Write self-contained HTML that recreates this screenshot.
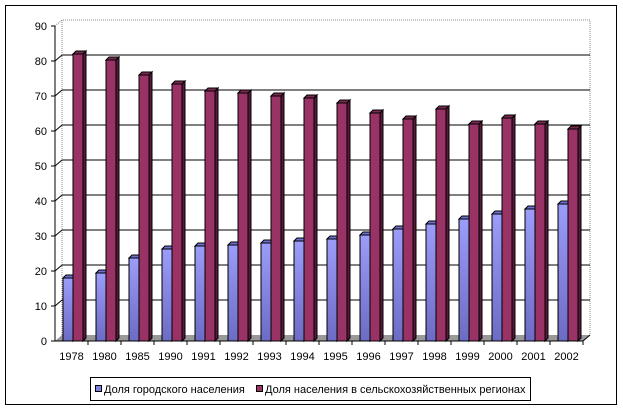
<!DOCTYPE html>
<html><head><meta charset="utf-8"><style>
html,body{margin:0;padding:0;background:#fff;}
svg{display:block;font-family:"Liberation Sans",Arial,sans-serif;}
</style></head><body>
<svg width="623" height="411" viewBox="0 0 623 411" xmlns="http://www.w3.org/2000/svg">
<defs>
<linearGradient id="gb" x1="0" y1="0" x2="0" y2="1"><stop offset="0" stop-color="#9c9cfa"/><stop offset="1" stop-color="#6c6cc4"/></linearGradient>
</defs>
<rect x="5.5" y="5.5" width="611" height="399" fill="#fff" stroke="#000"/>
<path d="M62 335 V20 H590 V335" fill="none" stroke="#888" stroke-dasharray="1,1"/>
<line x1="55" y1="26" x2="62" y2="20" stroke="#888" stroke-dasharray="1,1"/>
<g stroke="#000">
<line x1="62" y1="55" x2="590" y2="55"/><line x1="62" y1="90" x2="590" y2="90"/>
<line x1="62" y1="125" x2="590" y2="125"/><line x1="62" y1="160" x2="590" y2="160"/>
<line x1="62" y1="195" x2="590" y2="195"/><line x1="62" y1="230" x2="590" y2="230"/>
<line x1="62" y1="265" x2="590" y2="265"/><line x1="62" y1="300" x2="590" y2="300"/>
<line x1="55" y1="61" x2="62" y2="55"/><line x1="55" y1="96" x2="62" y2="90"/>
<line x1="55" y1="131" x2="62" y2="125"/><line x1="55" y1="166" x2="62" y2="160"/>
<line x1="55" y1="201" x2="62" y2="195"/><line x1="55" y1="236" x2="62" y2="230"/>
<line x1="55" y1="271" x2="62" y2="265"/><line x1="55" y1="306" x2="62" y2="300"/>
</g>
<polygon points="55,341 583,341 590,335 62,335" fill="#999"/>
<line x1="583" y1="341" x2="590" y2="335" stroke="#000"/>

<g stroke="#000" stroke-width="1">
<!-- blue bars -->
<g fill="url(#gb)">
<g transform="translate(63,278)"><path d="M10 0 L13 -3 V60 L10 63 Z" fill="#5050a0"/><path d="M0 0 L3 -3 H13 L10 0 Z" fill="#7070d0"/><rect width="10" height="63"/></g>
<g transform="translate(96,273)"><path d="M10 0 L13 -3 V65 L10 68 Z" fill="#5050a0"/><path d="M0 0 L3 -3 H13 L10 0 Z" fill="#7070d0"/><rect width="10" height="68"/></g>
<g transform="translate(129,258)"><path d="M10 0 L13 -3 V80 L10 83 Z" fill="#5050a0"/><path d="M0 0 L3 -3 H13 L10 0 Z" fill="#7070d0"/><rect width="10" height="83"/></g>
<g transform="translate(162,249)"><path d="M10 0 L13 -3 V89 L10 92 Z" fill="#5050a0"/><path d="M0 0 L3 -3 H13 L10 0 Z" fill="#7070d0"/><rect width="10" height="92"/></g>
<g transform="translate(195,246)"><path d="M10 0 L13 -3 V92 L10 95 Z" fill="#5050a0"/><path d="M0 0 L3 -3 H13 L10 0 Z" fill="#7070d0"/><rect width="10" height="95"/></g>
<g transform="translate(228,245)"><path d="M10 0 L13 -3 V93 L10 96 Z" fill="#5050a0"/><path d="M0 0 L3 -3 H13 L10 0 Z" fill="#7070d0"/><rect width="10" height="96"/></g>
<g transform="translate(261,243)"><path d="M10 0 L13 -3 V95 L10 98 Z" fill="#5050a0"/><path d="M0 0 L3 -3 H13 L10 0 Z" fill="#7070d0"/><rect width="10" height="98"/></g>
<g transform="translate(294,241)"><path d="M10 0 L13 -3 V97 L10 100 Z" fill="#5050a0"/><path d="M0 0 L3 -3 H13 L10 0 Z" fill="#7070d0"/><rect width="10" height="100"/></g>
<g transform="translate(327,239)"><path d="M10 0 L13 -3 V99 L10 102 Z" fill="#5050a0"/><path d="M0 0 L3 -3 H13 L10 0 Z" fill="#7070d0"/><rect width="10" height="102"/></g>
<g transform="translate(360,235)"><path d="M10 0 L13 -3 V103 L10 106 Z" fill="#5050a0"/><path d="M0 0 L3 -3 H13 L10 0 Z" fill="#7070d0"/><rect width="10" height="106"/></g>
<g transform="translate(393,229)"><path d="M10 0 L13 -3 V109 L10 112 Z" fill="#5050a0"/><path d="M0 0 L3 -3 H13 L10 0 Z" fill="#7070d0"/><rect width="10" height="112"/></g>
<g transform="translate(426,224)"><path d="M10 0 L13 -3 V114 L10 117 Z" fill="#5050a0"/><path d="M0 0 L3 -3 H13 L10 0 Z" fill="#7070d0"/><rect width="10" height="117"/></g>
<g transform="translate(459,219)"><path d="M10 0 L13 -3 V119 L10 122 Z" fill="#5050a0"/><path d="M0 0 L3 -3 H13 L10 0 Z" fill="#7070d0"/><rect width="10" height="122"/></g>
<g transform="translate(492,214)"><path d="M10 0 L13 -3 V124 L10 127 Z" fill="#5050a0"/><path d="M0 0 L3 -3 H13 L10 0 Z" fill="#7070d0"/><rect width="10" height="127"/></g>
<g transform="translate(525,209)"><path d="M10 0 L13 -3 V129 L10 132 Z" fill="#5050a0"/><path d="M0 0 L3 -3 H13 L10 0 Z" fill="#7070d0"/><rect width="10" height="132"/></g>
<g transform="translate(558,204)"><path d="M10 0 L13 -3 V134 L10 137 Z" fill="#5050a0"/><path d="M0 0 L3 -3 H13 L10 0 Z" fill="#7070d0"/><rect width="10" height="137"/></g>
</g>
<!-- red bars -->
<g fill="#993366">
<g transform="translate(73,54)"><path d="M10 0 L13 -3 V284 L10 287 Z" fill="#5a1a3a"/><path d="M0 0 L3 -3 H13 L10 0 Z" fill="#7a2a50"/><rect width="10" height="287"/></g>
<g transform="translate(106,60)"><path d="M10 0 L13 -3 V278 L10 281 Z" fill="#5a1a3a"/><path d="M0 0 L3 -3 H13 L10 0 Z" fill="#7a2a50"/><rect width="10" height="281"/></g>
<g transform="translate(139,75)"><path d="M10 0 L13 -3 V263 L10 266 Z" fill="#5a1a3a"/><path d="M0 0 L3 -3 H13 L10 0 Z" fill="#7a2a50"/><rect width="10" height="266"/></g>
<g transform="translate(172,84)"><path d="M10 0 L13 -3 V254 L10 257 Z" fill="#5a1a3a"/><path d="M0 0 L3 -3 H13 L10 0 Z" fill="#7a2a50"/><rect width="10" height="257"/></g>
<g transform="translate(205,91)"><path d="M10 0 L13 -3 V247 L10 250 Z" fill="#5a1a3a"/><path d="M0 0 L3 -3 H13 L10 0 Z" fill="#7a2a50"/><rect width="10" height="250"/></g>
<g transform="translate(238,93)"><path d="M10 0 L13 -3 V245 L10 248 Z" fill="#5a1a3a"/><path d="M0 0 L3 -3 H13 L10 0 Z" fill="#7a2a50"/><rect width="10" height="248"/></g>
<g transform="translate(271,96)"><path d="M10 0 L13 -3 V242 L10 245 Z" fill="#5a1a3a"/><path d="M0 0 L3 -3 H13 L10 0 Z" fill="#7a2a50"/><rect width="10" height="245"/></g>
<g transform="translate(304,98)"><path d="M10 0 L13 -3 V240 L10 243 Z" fill="#5a1a3a"/><path d="M0 0 L3 -3 H13 L10 0 Z" fill="#7a2a50"/><rect width="10" height="243"/></g>
<g transform="translate(337,103)"><path d="M10 0 L13 -3 V235 L10 238 Z" fill="#5a1a3a"/><path d="M0 0 L3 -3 H13 L10 0 Z" fill="#7a2a50"/><rect width="10" height="238"/></g>
<g transform="translate(370,113)"><path d="M10 0 L13 -3 V225 L10 228 Z" fill="#5a1a3a"/><path d="M0 0 L3 -3 H13 L10 0 Z" fill="#7a2a50"/><rect width="10" height="228"/></g>
<g transform="translate(403,119)"><path d="M10 0 L13 -3 V219 L10 222 Z" fill="#5a1a3a"/><path d="M0 0 L3 -3 H13 L10 0 Z" fill="#7a2a50"/><rect width="10" height="222"/></g>
<g transform="translate(436,109)"><path d="M10 0 L13 -3 V229 L10 232 Z" fill="#5a1a3a"/><path d="M0 0 L3 -3 H13 L10 0 Z" fill="#7a2a50"/><rect width="10" height="232"/></g>
<g transform="translate(469,124)"><path d="M10 0 L13 -3 V214 L10 217 Z" fill="#5a1a3a"/><path d="M0 0 L3 -3 H13 L10 0 Z" fill="#7a2a50"/><rect width="10" height="217"/></g>
<g transform="translate(502,118)"><path d="M10 0 L13 -3 V220 L10 223 Z" fill="#5a1a3a"/><path d="M0 0 L3 -3 H13 L10 0 Z" fill="#7a2a50"/><rect width="10" height="223"/></g>
<g transform="translate(535,124)"><path d="M10 0 L13 -3 V214 L10 217 Z" fill="#5a1a3a"/><path d="M0 0 L3 -3 H13 L10 0 Z" fill="#7a2a50"/><rect width="10" height="217"/></g>
<g transform="translate(568,129)"><path d="M10 0 L13 -3 V209 L10 212 Z" fill="#5a1a3a"/><path d="M0 0 L3 -3 H13 L10 0 Z" fill="#7a2a50"/><rect width="10" height="212"/></g>
</g>
</g>

<g stroke="#000"><line x1="55" y1="26" x2="55" y2="341"/><line x1="55" y1="341" x2="583" y2="341"/>
<line x1="51" y1="26" x2="55" y2="26"/><line x1="51" y1="61" x2="55" y2="61"/><line x1="51" y1="96" x2="55" y2="96"/>
<line x1="51" y1="131" x2="55" y2="131"/><line x1="51" y1="166" x2="55" y2="166"/><line x1="51" y1="201" x2="55" y2="201"/>
<line x1="51" y1="236" x2="55" y2="236"/><line x1="51" y1="271" x2="55" y2="271"/><line x1="51" y1="306" x2="55" y2="306"/>
<line x1="51" y1="341" x2="55" y2="341"/>
<line x1="88" y1="341" x2="88" y2="345"/><line x1="121" y1="341" x2="121" y2="345"/><line x1="154" y1="341" x2="154" y2="345"/>
<line x1="187" y1="341" x2="187" y2="345"/><line x1="220" y1="341" x2="220" y2="345"/><line x1="253" y1="341" x2="253" y2="345"/>
<line x1="286" y1="341" x2="286" y2="345"/><line x1="319" y1="341" x2="319" y2="345"/><line x1="352" y1="341" x2="352" y2="345"/>
<line x1="385" y1="341" x2="385" y2="345"/><line x1="418" y1="341" x2="418" y2="345"/><line x1="451" y1="341" x2="451" y2="345"/>
<line x1="484" y1="341" x2="484" y2="345"/><line x1="517" y1="341" x2="517" y2="345"/><line x1="550" y1="341" x2="550" y2="345"/>
<line x1="583" y1="341" x2="583" y2="345"/>
</g>
<g font-size="11" text-anchor="end">
<text x="47" y="30">90</text><text x="47" y="65">80</text><text x="47" y="100">70</text><text x="47" y="135">60</text>
<text x="47" y="170">50</text><text x="47" y="205">40</text><text x="47" y="240">30</text><text x="47" y="275">20</text>
<text x="47" y="310">10</text><text x="47" y="345">0</text></g>
<g font-size="11" text-anchor="middle">
<text x="71.5" y="360">1978</text><text x="104.5" y="360">1980</text><text x="137.5" y="360">1985</text><text x="170.5" y="360">1990</text>
<text x="203.5" y="360">1991</text><text x="236.5" y="360">1992</text><text x="269.5" y="360">1993</text><text x="302.5" y="360">1994</text>
<text x="335.5" y="360">1995</text><text x="368.5" y="360">1996</text><text x="401.5" y="360">1997</text><text x="434.5" y="360">1998</text>
<text x="467.5" y="360">1999</text><text x="500.5" y="360">2000</text><text x="533.5" y="360">2001</text><text x="566.5" y="360">2002</text>
</g>
<rect x="90.5" y="377.5" width="440" height="23" fill="#fff" stroke="#000"/>
<rect x="95.5" y="385.5" width="6" height="6" fill="#8080e0" stroke="#000"/>
<text x="104" y="393" font-size="11">Доля городского населения</text>
<rect x="256.5" y="385.5" width="6" height="6" fill="#993366" stroke="#000"/>
<text x="265" y="393" font-size="11">Доля населения в сельскохозяйственных регионах</text>
</svg>
</body></html>
